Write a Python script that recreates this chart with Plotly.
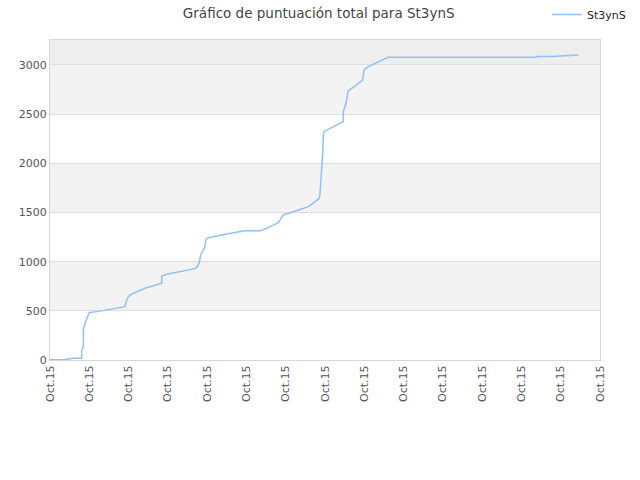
import plotly.graph_objects as go

x_pos = [0.0, 0.38, 0.61, 0.807, 0.807, 0.85, 0.85, 0.891, 0.95, 1.0, 1.273, 1.527, 1.909,
         1.935, 1.993, 2.08, 2.207, 2.418, 2.843, 2.843, 2.971, 3.309, 3.691, 3.749, 3.80,
         3.836, 3.887, 3.938, 3.971, 4.029, 4.497, 4.964, 5.363, 5.516, 5.811, 5.939, 6.193,
         6.575, 6.745, 6.855, 6.873, 6.898, 6.916, 6.94, 6.957, 6.975, 7.211, 7.466, 7.466,
         7.535, 7.593, 7.72, 7.96, 7.993, 8.102, 8.357, 8.611, 12.371, 12.389, 12.77, 13.084,
         13.448]
scores = [3, 5, 17, 17, 100, 142, 305, 373, 434, 481, 497, 515, 542,
          593, 644, 671, 695, 729, 780, 854, 871, 898, 929, 949, 990,
          1068, 1102, 1146, 1227, 1244, 1281, 1315, 1315, 1339, 1396, 1475, 1508,
          1559, 1610, 1644, 1695, 1830, 2000, 2085, 2271, 2322, 2373, 2424, 2525,
          2610, 2739, 2773, 2848, 2949, 2983, 3034, 3078, 3078, 3085, 3085, 3095,
          3102]
tick_vals = list(range(15))
tick_labels = ["Oct.15"] * 15
y_ticks = [0, 500, 1000, 1500, 2000, 2500, 3000]
series_name = "St3ynS"
title = "Gráfico de puntuación total para St3ynS"

fig = go.Figure()
fig.add_trace(go.Scatter(x=x_pos, y=scores, mode="lines", name=series_name,
                         line=dict(color="#90c0f6", width=1.5)))

shapes = []
bands = [(500, 1000, "#f3f3f3"), (1500, 2000, "#f3f3f3"), (2500, 3000, "#f3f3f3"),
         (3000, 3260, "#eeeeee")]
for y0, y1, c in bands:
    shapes.append(dict(type="rect", xref="paper", yref="y", x0=0, x1=1, y0=y0, y1=y1,
                       fillcolor=c, line=dict(width=0), layer="below"))

fig.update_layout(
    width=640, height=480,
    margin=dict(l=50, r=40, t=40, b=120, autoexpand=False),
    paper_bgcolor="white", plot_bgcolor="white",
    font=dict(family="DejaVu Sans", size=11, color="#555555"),
    title=dict(text=title, x=0.498, xanchor="center", y=0.973, yanchor="middle",
               font=dict(family="DejaVu Sans", size=13.5, color="#444444")),
    showlegend=True,
    legend=dict(x=0.9036, xanchor="left", y=1.125, yanchor="top",
                bgcolor="rgba(0,0,0,0)", font=dict(family="DejaVu Sans", size=11, color="#222222")),
    shapes=shapes,
    xaxis=dict(range=[0, 14], tickvals=tick_vals, ticktext=tick_labels, tickangle=-90,
               showgrid=False, zeroline=False, showline=True, linecolor="#d6d6d6",
               mirror=True, ticks="", automargin=False, tickfont=dict(size=11, color="#555555")),
    yaxis=dict(range=[0, 3254], tickvals=y_ticks, showgrid=True, gridcolor="#dddddd",
               zeroline=False, showline=True, linecolor="#d6d6d6", mirror=True, ticks="",
               automargin=False, tickfont=dict(size=11, color="#555555")),
)
fig.write_html("out.html", config={"displayModeBar": False},
               post_script="document.body.style.margin='0px';")
